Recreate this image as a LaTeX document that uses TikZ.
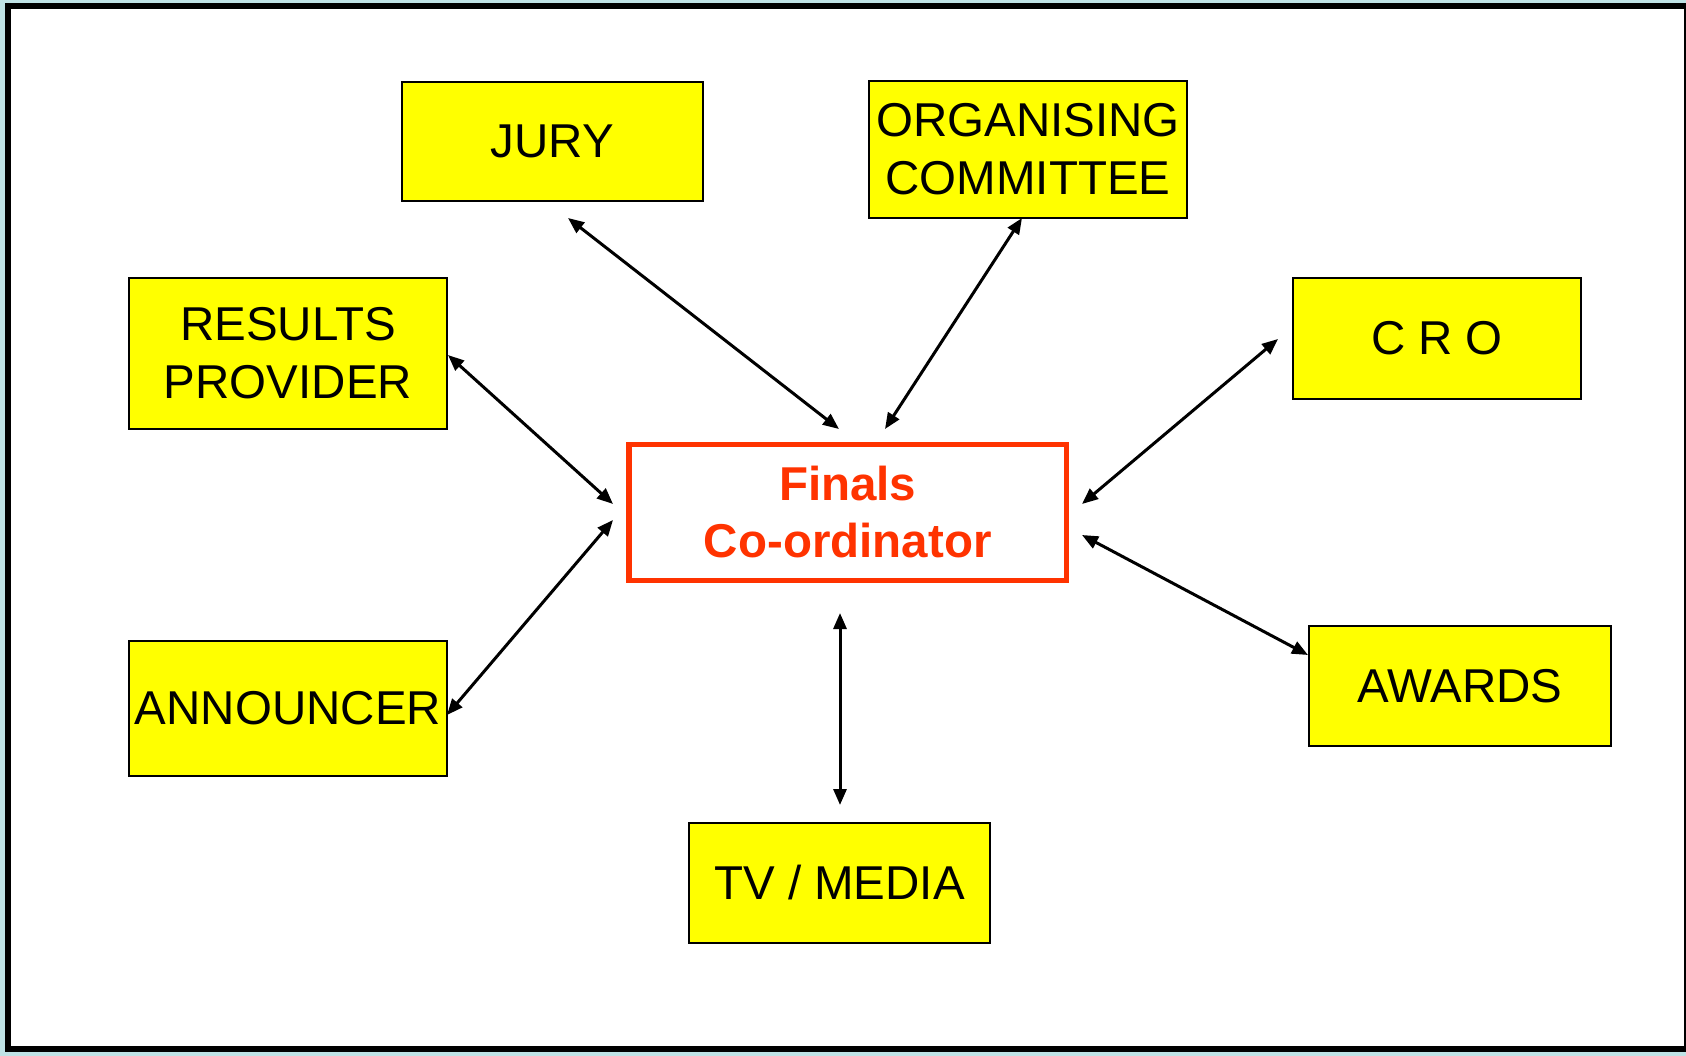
\documentclass[tikz,border=0pt]{standalone}
\usepackage{fontspec}
\setmainfont{Liberation Sans}
\usetikzlibrary{arrows.meta}

\definecolor{pagebg}{RGB}{191,226,229}
\definecolor{boxyellow}{RGB}{255,255,0}
\definecolor{coordred}{RGB}{255,51,0}

\begin{document}
\begin{tikzpicture}[x=1pt,y=-1pt,
  rolebox/.style={draw=black, line width=1.6pt, fill=boxyellow, inner sep=0pt,
    align=center, font=\fontsize{47.5}{58}\selectfont, text=black},
  hubbox/.style={draw=coordred, line width=5.5pt, fill=white, inner sep=0pt,
    align=center, font=\fontsize{47.5}{57}\selectfont\bfseries, text=coordred},
  link/.style={line width=3pt, {Triangle[length=16pt,width=13pt]}-{Triangle[length=16pt,width=13pt]}}
]
% page background and frame
\useasboundingbox (0,0) rectangle (1686,1056);
\fill[pagebg] (0,0) rectangle (1686,1056);
\draw[line width=6pt, fill=white] (8,6) rectangle (1687,1049);

% central coordinator
\node[hubbox, minimum width=437.5pt, minimum height=136pt] (fin) at (847.75,512.5) {Finals\\Co-ordinator};

% surrounding roles
\node[rolebox, minimum width=301pt, minimum height=119pt] (jury) at (552.5,141.5) {JURY};
\node[rolebox, minimum width=318pt, minimum height=137pt] (org) at (1028,149.5) {ORGANISING\\COMMITTEE};
\node[rolebox, minimum width=318pt, minimum height=151pt] (res) at (288,353.5) {RESULTS\\PROVIDER};
\node[rolebox, minimum width=288pt, minimum height=121pt] (cro) at (1437,338.5) {C R O};
\node[rolebox, minimum width=318pt, minimum height=135pt] (ann) at (288,708.5) {ANNOUNCER};
\node[rolebox, minimum width=302pt, minimum height=120pt] (awd) at (1460,686) {AWARDS};
\node[rolebox, minimum width=301pt, minimum height=120pt] (tv) at (839.5,883) {TV / MEDIA};

% arrow end points
\coordinate (jury-a) at (568,218);   \coordinate (fin-jury) at (839,429);
\coordinate (org-a)  at (1022,218);  \coordinate (fin-org)  at (885,429);
\coordinate (res-a)  at (448,355);   \coordinate (fin-res)  at (613,504);
\coordinate (ann-a)  at (447,715);   \coordinate (fin-ann)  at (613,520);
\coordinate (cro-a)  at (1278,339);  \coordinate (fin-cro)  at (1082,504);
\coordinate (awd-a)  at (1308,655);  \coordinate (fin-awd)  at (1082,535);
\coordinate (tv-a)   at (840,805);   \coordinate (fin-tv)   at (840,613);

% two-way links
\draw[link] (jury-a) -- (fin-jury);
\draw[link] (org-a) -- (fin-org);
\draw[link] (res-a) -- (fin-res);
\draw[link] (ann-a) -- (fin-ann);
\draw[link] (cro-a) -- (fin-cro);
\draw[link] (awd-a) -- (fin-awd);
\draw[link] (tv-a) -- (fin-tv);
\end{tikzpicture}
\end{document}
